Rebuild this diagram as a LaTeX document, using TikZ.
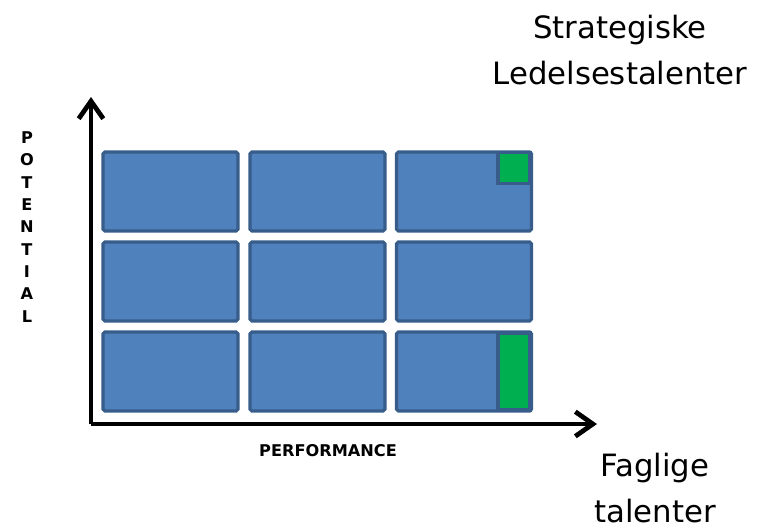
\documentclass[tikz,border=0pt]{standalone}
\usepackage{fontspec}
\setmainfont{DejaVu Sans}
\usetikzlibrary{arrows.meta}
\definecolor{cellblue}{HTML}{4F81BD}
\definecolor{celledge}{HTML}{385D8A}
\definecolor{cellgreen}{HTML}{00B050}
\begin{document}
\begin{tikzpicture}[x=0.02cm, y=-0.02cm,
cell/.style={rectangle,draw=celledge,fill=cellblue,line width=1.8pt,rounded corners=1pt,minimum width=2.7cm,minimum height=1.58cm,inner sep=0pt},
mark box/.style={rectangle,draw=celledge,fill=cellgreen,line width=1.8pt,inner sep=0pt},
axis/.style={line width=2.7pt,-{Straight Barb[length=10pt,width=14pt,line width=2.7pt]}},
big label/.style={font=\fontsize{17.5pt}{26.5pt}\selectfont,align=center},
small label/.style={font=\fontsize{9.2pt}{12.7pt}\selectfont\bfseries,align=center}]
\useasboundingbox (0,0) rectangle (771,528);
% grid
\node[cell] (c11) at (170.5,191.5) {};
\node[cell] (c12) at (317.5,191.5) {};
\node[cell] (c13) at (464,191.5) {};
\node[cell] (c21) at (170.5,281.5) {};
\node[cell] (c22) at (317.5,281.5) {};
\node[cell] (c23) at (464,281.5) {};
\node[cell] (c31) at (170.5,371.5) {};
\node[cell] (c32) at (317.5,371.5) {};
\node[cell] (c33) at (464,371.5) {};
\node[mark box,minimum width=0.64cm,minimum height=0.62cm] (g1) at (514,168) {};
\node[mark box,minimum width=0.64cm,minimum height=1.54cm] (g2) at (514,371.5) {};
% axes
\coordinate (o) at (91,424);
\coordinate (ytop) at (91,97);
\coordinate (xend) at (597,424);
\draw[axis] (o) -- (ytop);
\draw[axis] (o) -- (xend);
% labels
\node[small label] (pot) at (27,227) {P\\O\\T\\E\\N\\T\\I\\A\\L};
\node[small label] (perf) at (328,451) {PERFORMANCE};
\node[big label] (strat) at (620,50) {Strategiske\\Ledelsestalenter};
\node[big label] (fag) at (655,488) {Faglige\\talenter};
\end{tikzpicture}
\end{document}
